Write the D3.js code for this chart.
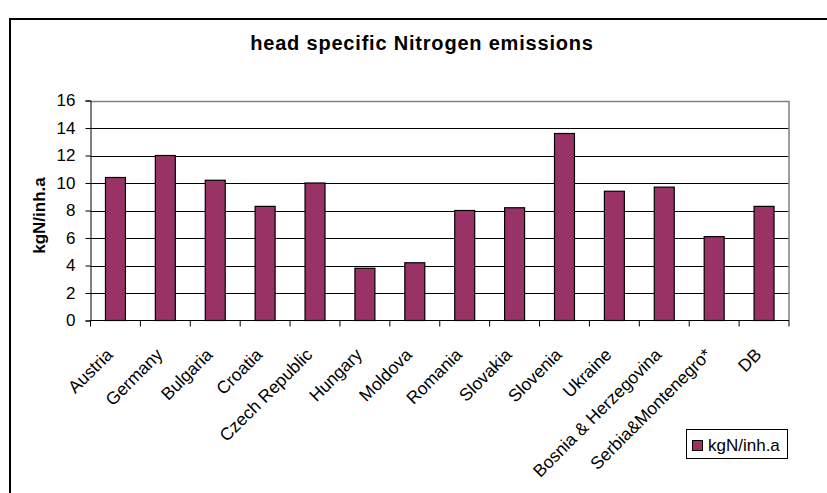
<!DOCTYPE html>
<html>
<head>
<meta charset="utf-8">
<script src="https://cdn.jsdelivr.net/npm/d3@7"></script>
<style>
  body { margin: 0; background: #fff; }
  svg text { font-family: Arial, "Liberation Sans", sans-serif; fill: #000; }
</style>
</head>
<body>
<svg id="chart" width="827" height="493"></svg>
<script>
const countries = ["Austria", "Germany", "Bulgaria", "Croatia", "Czech Republic", "Hungary", "Moldova",
  "Romania", "Slovakia", "Slovenia", "Ukraine", "Bosnia & Herzegovina", "Serbia&Montenegro*", "DB"];
const emissions = [10.4, 12.0, 10.2, 8.3, 10.0, 3.8, 4.2, 8.0, 8.2, 13.6, 9.4, 9.7, 6.1, 8.3];
const yTicks = [0, 2, 4, 6, 8, 10, 12, 14, 16];
const seriesName = "kgN/inh.a";
const barColor = "#993366";

const svg = d3.select("#chart");

// outer chart border (runs off the right and bottom of the picture)
svg.append("rect")
  .attr("x", 10).attr("y", 19)
  .attr("width", 840).attr("height", 500)
  .attr("fill", "none").attr("stroke", "#000").attr("stroke-width", 2);

const plot = { left: 90.5, right: 789, top: 100.5, bottom: 320.5 };

const x = d3.scaleBand()
  .domain(countries)
  .range([plot.left, plot.right])
  .paddingInner(0.6)
  .paddingOuter(0.3);

const y = d3.scaleLinear()
  .domain([0, 16])
  .range([plot.bottom, plot.top]);

// gridlines
svg.append("g")
  .selectAll("line")
  .data(yTicks.filter(d => d > 0 && d < 16))
  .join("line")
  .attr("x1", plot.left).attr("x2", plot.right)
  .attr("y1", d => Math.round(y(d)) + 0.5).attr("y2", d => Math.round(y(d)) + 0.5)
  .attr("stroke", "#000");

// plot area border top/right
svg.append("path")
  .attr("d", `M${plot.left},${Math.round(y(16)) + 0.5}H${plot.right}V${plot.bottom}`)
  .attr("fill", "none").attr("stroke", "#808080").attr("stroke-width", 1.5);

// bars
svg.append("g")
  .selectAll("rect")
  .data(emissions)
  .join("rect")
  .attr("x", (d, i) => x(countries[i]))
  .attr("y", d => y(d))
  .attr("width", x.bandwidth())
  .attr("height", d => y(0) - y(d))
  .attr("fill", barColor)
  .attr("stroke", "#000")
  .attr("stroke-width", 1.2);

// y axis
const yAxis = svg.append("g")
  .attr("transform", `translate(${plot.left},0)`)
  .call(d3.axisLeft(y).tickValues(yTicks).tickSize(5).tickPadding(10));
yAxis.select(".domain").attr("stroke", "#000");
yAxis.selectAll(".tick text").style("font-size", "17px");

// x axis with ticks between categories
const step = x.step();
const edges = countries.map(c => x(c) - (step - x.bandwidth()) / 2).concat([plot.right]);
svg.append("line")
  .attr("x1", plot.left).attr("x2", plot.right)
  .attr("y1", plot.bottom).attr("y2", plot.bottom)
  .attr("stroke", "#000");
svg.append("g")
  .selectAll("line")
  .data(edges)
  .join("line")
  .attr("x1", d => d).attr("x2", d => d)
  .attr("y1", plot.bottom).attr("y2", plot.bottom + 6)
  .attr("stroke", "#000");

svg.append("g")
  .selectAll("text")
  .data(countries)
  .join("text")
  .attr("transform", d => `translate(${x(d) + x.bandwidth() / 2 - 6},${plot.bottom + 31}) rotate(-45)`)
  .attr("text-anchor", "end")
  .attr("dy", "0.35em")
  .style("font-size", "17.5px")
  .text(d => d);

// titles
svg.append("text")
  .attr("x", 422).attr("y", 50)
  .attr("text-anchor", "middle")
  .style("font-size", "20px").style("font-weight", "bold")
  .style("letter-spacing", "0.8px")
  .text("head specific Nitrogen emissions");

svg.append("text")
  .attr("transform", `translate(45,${(plot.top + plot.bottom) / 2 + 5}) rotate(-90)`)
  .attr("text-anchor", "middle")
  .style("font-size", "17px").style("font-weight", "bold")
  .text(seriesName);

// legend
const legend = svg.append("g").attr("transform", "translate(686.5,429.5)");
legend.append("rect")
  .attr("width", 101).attr("height", 29)
  .attr("fill", "#fff").attr("stroke", "#000");
legend.append("rect")
  .attr("x", 6).attr("y", 11).attr("width", 10).attr("height", 10)
  .attr("fill", barColor).attr("stroke", "#000");
legend.append("text")
  .attr("x", 21.5).attr("y", 21)
  .style("font-size", "17px")
  .text(seriesName);
</script>
</body>
</html>
